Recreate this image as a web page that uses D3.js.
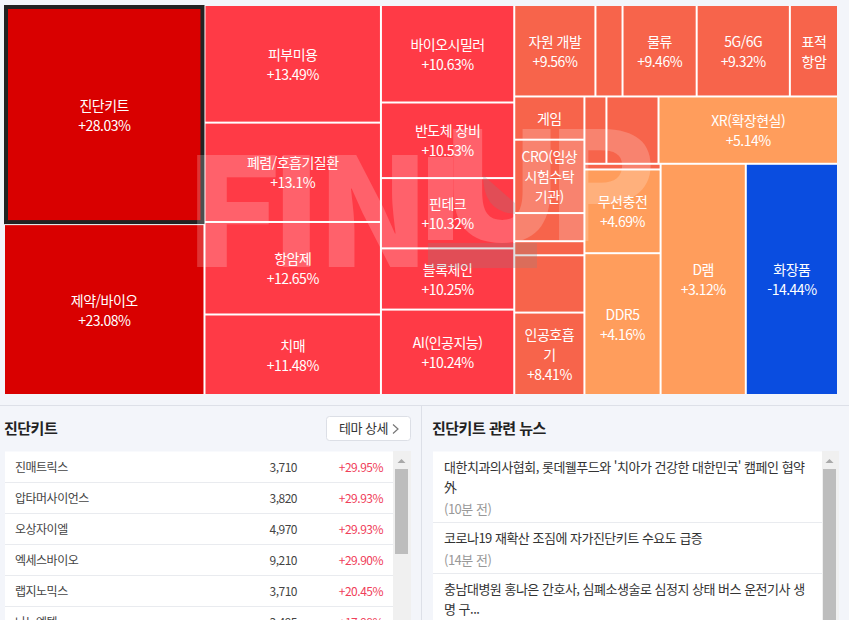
<!DOCTYPE html>
<html lang="ko">
<head>
<meta charset="utf-8">
<script src="https://cdn.jsdelivr.net/npm/d3@7"></script>
<style>
  html, body { margin: 0; padding: 0; background: #f3f5fa; overflow: hidden; }
  svg { display: block; font-family: "Noto Sans CJK KR", "Noto Sans", sans-serif; letter-spacing: -0.5px; }
</style>
</head>
<body>
<div id="chart"></div>
<script>
// treemap cells, the path gives the nesting of the slice/dice layout
const themeIds = [
  '/a/kit', '/a/pharma',
  '/b/skin', '/b/lung', '/b/cancer', '/b/dementia',
  '/c/biosimilar', '/c/chip', '/c/fintech', '/c/block', '/c/ai',
  '/d/top/resource', '/d/top/blank1', '/d/top/logistics', '/d/top/5g', '/d/top/target',
  '/d/rest/e/game', '/d/rest/e/cro', '/d/rest/e/blank2', '/d/rest/e/blank3', '/d/rest/e/blank4', '/d/rest/e/vent',
  '/d/rest/g/row1/blank5', '/d/rest/g/row1/blank6', '/d/rest/g/row1/xr',
  '/d/rest/g/row2/col/blank7', '/d/rest/g/row2/col/wireless', '/d/rest/g/row2/col/ddr5',
  '/d/rest/g/row2/dram', '/d/rest/g/row2/cosmetics'
]
const themeLabels = [
  '진단키트', '제약/바이오',
  '피부미용', '폐렴/호흡기질환', '항암제', '치매',
  '바이오시밀러', '반도체 장비', '핀테크', '블록체인', 'AI(인공지능)',
  '자원 개발', '', '물류', '5G/6G', '표적\n항암',
  '게임', 'CRO(임상\n시험수탁\n기관)', '', '', '', '인공호흡\n기',
  '', '', 'XR(확장현실)',
  '', '무선충전', 'DDR5',
  'D램', '화장품'
]
const themeChanges = [
  28.03, 23.08,
  13.49, 13.1, 12.65, 11.48,
  10.63, 10.53, 10.32, 10.25, 10.24,
  9.56, 9.5, 9.46, 9.32, 9.2,
  9.1, 9.0, 8.9, 8.8, 8.6, 8.41,
  8.2, 8.0, 5.14,
  7.0, 4.69, 4.16,
  3.12, -14.44
]
const themeSizes = [
  436, 340,
  206, 174, 162, 141,
  129, 100, 93, 81, 113,
  73.7, 24.6, 67.3, 84.6, 43.7,
  30.1, 51.1, 19.6, 9.8, 39.9, 57.4,
  14.7, 34.8, 119.9,
  4.3, 63.3, 107.2,
  195.5, 211.6
]
const hiddenChange = ['표적\n항암', '게임', 'CRO(임상\n시험수탁\n기관)']
const selectedTheme = '진단키트'

const stockNames = ['진매트릭스', '압타머사이언스', '오상자이엘', '엑세스바이오', '랩지노믹스', '나노엔텍']
const stockPrices = ['3,710', '3,820', '4,970', '9,210', '3,710', '3,495']
const stockChanges = ['+29.95%', '+29.93%', '+29.93%', '+29.90%', '+20.45%', '+17.98%']

const newsItems = [
  ["대한치과의사협회, 롯데웰푸드와 '치아가 건강한 대한민국' 캠페인 협약", '外', '(10분 전)'],
  ['코로나19 재확산 조짐에 자가진단키트 수요도 급증', '(14분 전)'],
  ['충남대병원 홍나은 간호사, 심폐소생술로 심정지 상태 버스 운전기사 생', '명 구...']
]

const width = 849
const height = 620
const svg = d3.select('#chart').append('svg')
  .attr('width', width)
  .attr('height', height)
  .attr('viewBox', `0 0 ${width} ${height}`)

// TREEMAP
const margin = { top: 6, left: 5 }
const mapWidth = 832
const mapHeight = 388

const color = d3.scaleThreshold()
  .domain([0, 6, 10, 20])
  .range(['#0a4de0', '#ff9d5c', '#f7644b', '#ff3a46', '#d90000'])

const cells = themeIds.map((id, i) => ({
  id,
  order: i,
  label: themeLabels[i],
  change: themeChanges[i],
  size: themeSizes[i]
}))

// stratify puts imputed groups last, so put them back in reading order
const firstOrder = node => d3.min(node.leaves(), d => d.data.order)
const root = d3.stratify().path(d => d.id)(cells)
  .sum(d => d ? d.size : 0)
  .sort((a, b) => firstOrder(a) - firstOrder(b))

d3.treemap()
  .tile(d3.treemapSliceDice)
  .size([mapWidth, mapHeight])
  .paddingInner(2)
  (root)

const map = svg.append('g')
  .attr('transform', `translate(${margin.left} ${margin.top})`)

map.append('rect')
  .attr('width', mapWidth)
  .attr('height', mapHeight)
  .attr('fill', '#fff')

const leaves = map.selectAll('.cell')
  .data(root.leaves())
  .enter().append('g')
  .attr('class', 'cell')
  .attr('transform', d => `translate(${d.x0} ${d.y0})`)

leaves.append('rect')
  .attr('width', d => d.x1 - d.x0)
  .attr('height', d => d.y1 - d.y0)
  .attr('fill', d => color(d.data.change))

leaves.append('text')
  .attr('text-anchor', 'middle')
  .attr('fill', '#fff')
  .attr('font-size', 14)
  .attr('transform', d => `translate(${(d.x1 - d.x0) / 2} ${(d.y1 - d.y0) / 2})`)
  .each(function (d) {
    if (!d.data.label) return
    const lines = d.data.label.split('\n')
    if (!hiddenChange.includes(d.data.label)) {
      lines.push(`${d.data.change > 0 ? '+' : ''}${d.data.change}%`)
    }
    d3.select(this).selectAll('tspan')
      .data(lines)
      .enter().append('tspan')
      .attr('x', 0)
      .attr('y', (_, i) => (i - (lines.length - 1) / 2) * 20 + 6)
      .text(t => t)
  })

// selected theme outline
map.selectAll('.selected')
  .data(root.leaves().filter(d => d.data.label === selectedTheme))
  .enter().append('rect')
  .attr('class', 'selected')
  .attr('x', d => d.x0 + 1)
  .attr('y', d => d.y0 + 1)
  .attr('width', d => d.x1 - d.x0 - 2)
  .attr('height', d => d.y1 - d.y0 - 2)
  .attr('fill', 'none')
  .attr('stroke', '#222')
  .attr('stroke-width', 4)

// WATERMARK
const mark = svg.append('g')
  .attr('fill', '#fff')
  .attr('fill-opacity', 0.2)
  .attr('font-size', 150)
  .attr('font-weight', 900)
  .style('letter-spacing', '0')
const markLetter = (letter, x, y, stretch) => mark.append('text')
  .attr('transform', `translate(${x} ${y}) scale(${stretch} 1)`)
  .text(letter)
markLetter('F', 183, 267, 1.1)
markLetter('I', 270, 267, 1)
markLetter('N', 316, 267, 1)
markLetter('U', 440, 241, 1.08)
markLetter('P', 545, 241, 1.09)
mark.append('path').attr('d', 'M428 157H453V240H428Z')
// grey overlap of the logo
svg.append('path')
  .attr('d', 'M483 175L515 203V214Q483 212 483 175ZM428 243H537V268H428Z')
  .attr('fill', '#888')
  .attr('fill-opacity', 0.25)

// LOWER PANELS
svg.append('line').attr('x1', 0).attr('x2', width).attr('y1', 405.5).attr('y2', 405.5).attr('stroke', '#dde0e8')
svg.append('line').attr('x1', 421.5).attr('x2', 421.5).attr('y1', 406).attr('y2', height).attr('stroke', '#dde0e8')

const title = (x, text) => svg.append('text')
  .attr('x', x).attr('y', 434)
  .attr('font-size', 15).attr('font-weight', 700).attr('fill', '#222')
  .text(text)

title(4, selectedTheme)
title(432, `${selectedTheme} 관련 뉴스`)

// button
svg.append('rect')
  .attr('x', 326.5).attr('y', 416.5).attr('width', 84).attr('height', 24).attr('rx', 3)
  .attr('fill', '#fff').attr('stroke', '#dcdfe6')
svg.append('text')
  .attr('x', 339).attr('y', 433)
  .attr('font-size', 13).attr('fill', '#333')
  .text('테마 상세')
svg.append('path')
  .attr('d', 'M393 424.5l5 4.5l-5 4.5')
  .attr('fill', 'none').attr('stroke', '#777').attr('stroke-width', 1.2)

const scrollbar = (x, w, thumbX, thumbW, thumbBottom) => {
  svg.append('rect').attr('x', x).attr('y', 451).attr('width', w).attr('height', height - 451).attr('fill', '#f0f0f0')
  svg.append('rect').attr('x', thumbX).attr('y', 469).attr('width', thumbW).attr('height', thumbBottom - 469).attr('fill', '#bdbdbd')
  const cx = thumbX + thumbW / 2
  svg.append('path').attr('d', `M${cx - 4} 463l4 -4l4 4Z`).attr('fill', '#a9a9a9')
}

// stock list
svg.append('rect').attr('x', 5).attr('y', 451.5).attr('width', 388).attr('height', height - 451).attr('fill', '#fff')
scrollbar(393, 18, 395, 13, 554)

const rowY = d3.scaleBand()
  .domain(d3.range(stockNames.length))
  .range([451.5, 451.5 + 31 * stockNames.length])

const rows = svg.selectAll('.row')
  .data(stockNames)
  .enter().append('g')
  .attr('class', 'row')
  .attr('transform', (_, i) => `translate(0 ${rowY(i)})`)
  .attr('font-size', 12)

rows.append('line')
  .attr('x1', 5).attr('x2', 393).attr('y1', 31).attr('y2', 31)
  .attr('stroke', '#e9ebef').attr('stroke-width', 1)
rows.append('text').attr('x', 15).attr('y', 20).attr('fill', '#444').text(d => d)
rows.append('text').attr('x', 297).attr('y', 20).attr('text-anchor', 'end').attr('fill', '#444').text((_, i) => stockPrices[i])
rows.append('text').attr('x', 383).attr('y', 20).attr('text-anchor', 'end').attr('fill', '#f0405a').text((_, i) => stockChanges[i])

// news list
svg.append('rect').attr('x', 433).attr('y', 451.5).attr('width', 390).attr('height', height - 451).attr('fill', '#fff')
scrollbar(822, 17, 823, 13, height)

let newsTop = 451
newsItems.forEach((lines, n) => {
  const isOpen = n === newsItems.length - 1
  lines.forEach((line, i) => {
    const isTime = line.startsWith('(')
    svg.append('text')
      .attr('x', 444)
      .attr('y', newsTop + 21 + i * 20 + (isTime ? 2 : 0))
      .attr('font-size', 13)
      .attr('fill', isTime ? '#999' : '#333')
      .text(line)
  })
  newsTop += lines.length * 20 + 11
  if (!isOpen) {
    svg.append('line')
      .attr('x1', 433).attr('x2', 822).attr('y1', newsTop + .5).attr('y2', newsTop + .5)
      .attr('stroke', '#e9ebef')
  }
})
</script>
</body>
</html>
